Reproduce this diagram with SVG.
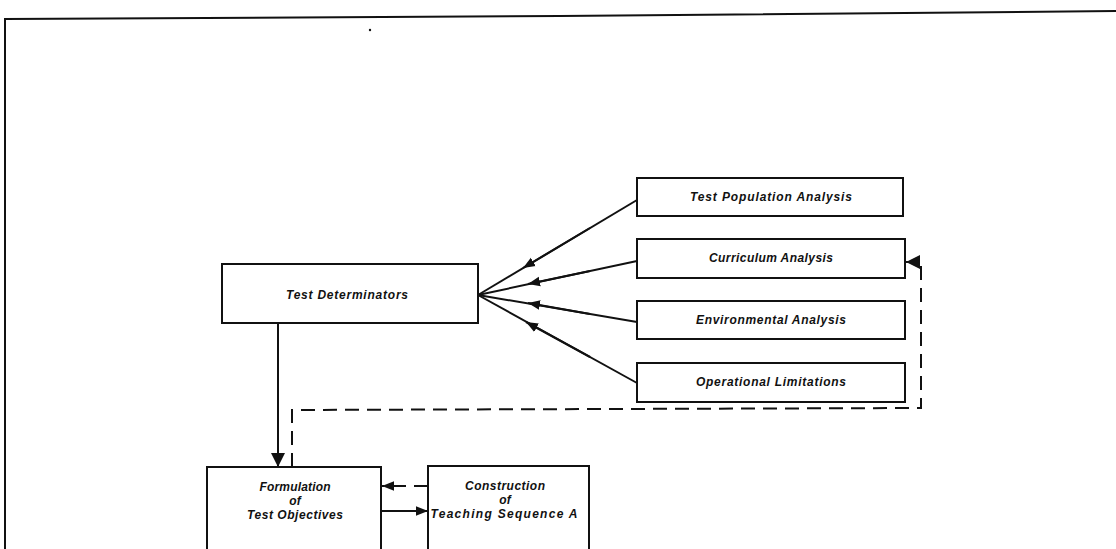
<svg xmlns="http://www.w3.org/2000/svg" width="1116" height="549" viewBox="0 0 1116 549">
<defs>
<style>
.box{fill:#fff;stroke:#111;stroke-width:2}
.t{font-family:"Liberation Sans",Arial,sans-serif;font-style:italic;font-weight:bold;font-size:12px;fill:#111;text-anchor:middle}
.ln{fill:none;stroke:#111;stroke-width:2}
.dash{fill:none;stroke:#111;stroke-width:2;stroke-dasharray:14 8}
</style>
<marker id="arr" viewBox="0 0 10 10" refX="10" refY="5" markerWidth="12" markerHeight="12" markerUnits="userSpaceOnUse" orient="auto">
<path d="M0,1 L10,5 L0,9 Z" fill="#111"/>
</marker>
<marker id="arrBig" viewBox="0 0 10 10" refX="10" refY="5" markerWidth="14" markerHeight="14" markerUnits="userSpaceOnUse" orient="auto">
<path d="M0,0 L10,5 L0,10 Z" fill="#111"/>
</marker>
</defs>
<rect width="1116" height="549" fill="#fff"/>
<g id="frame">
<path d="M5,549 L5,19 L560,16 L1116,11" class="ln"/>
<circle cx="370" cy="30" r="1.2" fill="#111"/>
</g>
<g id="connectors">
<line x1="637" y1="200" x2="478" y2="295" class="ln"/>
<line x1="637" y1="261" x2="478" y2="295" class="ln"/>
<line x1="637" y1="322" x2="478" y2="295" class="ln"/>
<line x1="637" y1="383" x2="478" y2="295" class="ln"/>
<line x1="590" y1="228" x2="523" y2="268" class="ln" marker-end="url(#arr)"/>
<line x1="590" y1="271" x2="528" y2="284" class="ln" marker-end="url(#arr)"/>
<line x1="590" y1="314" x2="528" y2="303" class="ln" marker-end="url(#arr)"/>
<line x1="590" y1="357" x2="526" y2="322" class="ln" marker-end="url(#arr)"/>
<line x1="278" y1="323" x2="278" y2="467" class="ln" marker-end="url(#arrBig)"/>
<path d="M292,467 L292,410 L921,408 L921,262 L906,262" class="dash" marker-end="url(#arrBig)"/>
<path d="M428,486 L382,486" class="dash" stroke-dasharray="10 6" marker-end="url(#arr)"/>
<line x1="382" y1="511" x2="428" y2="511" class="ln" marker-end="url(#arr)"/>
</g>
<g id="test-determinators">
<rect x="222" y="264" width="256" height="59" class="box"/>
<text x="347" y="299" class="t" textLength="122" lengthAdjust="spacing">Test Determinators</text>
</g>
<g id="test-population-analysis">
<rect x="637" y="178" width="266" height="38" class="box"/>
<text x="771" y="201" class="t" textLength="162" lengthAdjust="spacing">Test Population Analysis</text>
</g>
<g id="curriculum-analysis">
<rect x="637" y="239" width="268" height="39" class="box"/>
<text x="771" y="262" class="t" textLength="124" lengthAdjust="spacing">Curriculum Analysis</text>
</g>
<g id="environmental-analysis">
<rect x="637" y="301" width="268" height="38" class="box"/>
<text x="771" y="324" class="t" textLength="150" lengthAdjust="spacing">Environmental Analysis</text>
</g>
<g id="operational-limitations">
<rect x="637" y="363" width="268" height="39" class="box"/>
<text x="771" y="386" class="t" textLength="150" lengthAdjust="spacing">Operational Limitations</text>
</g>
<g id="formulation">
<path d="M207,549 L207,467 L381,467 L381,549" class="ln"/>
<text x="295" y="491" class="t" textLength="71" lengthAdjust="spacing">Formulation</text>
<text x="295" y="505" class="t">of</text>
<text x="295" y="519" class="t" textLength="96" lengthAdjust="spacing">Test Objectives</text>
</g>
<g id="construction">
<path d="M428,549 L428,466 L589,466 L589,549" class="ln"/>
<text x="505" y="490" class="t" textLength="80" lengthAdjust="spacing">Construction</text>
<text x="505" y="504" class="t">of</text>
<text x="504" y="518" class="t" textLength="147" lengthAdjust="spacing">Teaching Sequence A</text>
</g>
</svg>
